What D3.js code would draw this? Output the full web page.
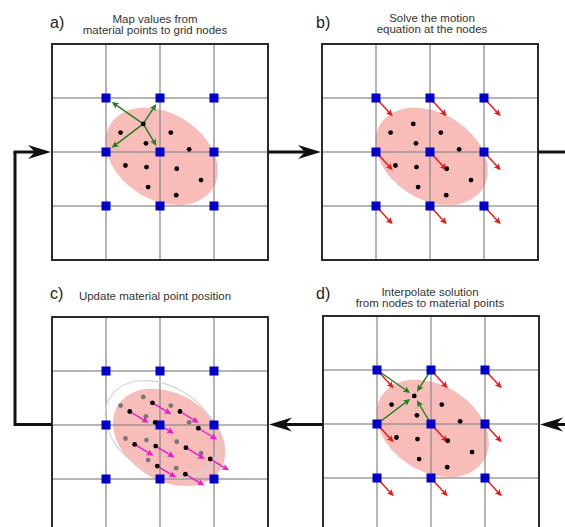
<!DOCTYPE html>
<html><head><meta charset="utf-8">
<script src="https://cdn.jsdelivr.net/npm/d3@7"></script>
<style>body{margin:0;background:#fff}svg{display:block}</style>
</head><body><svg id="chart" width="565" height="527"></svg>
<script>
// ---- data (grid units; one cell = 1) ----
const gridLines = [1, 2, 3];
const nodeIdx = [1, 2, 3];
const materialPoints = [[1.69,1.48],[1.27,1.64],[2.20,1.64],[1.74,1.84],[2.54,1.95],[1.36,2.25],[1.75,2.28],[2.31,2.31],[2.76,2.52],[1.78,2.65],[2.30,2.80]];
const body = {cx: 2.03, cy: 2.08, rx: 1.12, ry: 0.80, angle: 32};
const nodeVelocity = [0.31, 0.34];      // red arrows at nodes (b, d)
const pointShift = [0.17, 0.11];        // material point displacement (c)
const pointVelocity = [0.35, 0.21];     // magenta arrows (c)
const bodyShift = [0.14, 0.15];         // deformed body shift (c)
const mappedPoint = 0;                  // point linked to nodes in a) and d)
const mappedNodes = [[1,1],[2,1],[1,2],[2,2]];
const panelLabels = ["a)", "b)", "c)", "d)"];
const panelTitles = [
  ["Map values from", "material points to grid nodes"],
  ["Solve the motion", "equation at the nodes"],
  ["Update material point position"],
  ["Interpolate solution", "from nodes to material points"]
];

// ---- layout ----
const svg = d3.select("#chart");
const panelPos = [[52,44],[322,44],[52,317],[323,316]];
const s = d3.scaleLinear().domain([0,4]).range([0,216]);
const C = {grid:"#8c8c8c", frame:"#2b2b2b", node:"#0000c8", pink:"#f9bdb9",
           green:"#1f7f1f", red:"#f01414", magenta:"#e41ccc", text:"#333"};

function arrow(g, x1, y1, x2, y2, o) {
  const dx = x2-x1, dy = y2-y1, L = Math.hypot(dx,dy), ux = dx/L, uy = dy/L;
  const hl = o.hl, hw = o.hw, notch = o.notch || 0;
  const bx = x2-ux*hl, by = y2-uy*hl;
  const nx = x2-ux*(hl-notch), ny = y2-uy*(hl-notch);
  g.append("line").attr("x1",x1).attr("y1",y1)
    .attr("x2",nx+ux).attr("y2",ny+uy)
    .attr("stroke",o.color).attr("stroke-width",o.w).attr("stroke-linecap","butt");
  g.append("path")
    .attr("d",`M${x2},${y2}L${bx-uy*hw},${by+ux*hw}L${nx},${ny}L${bx+uy*hw},${by-ux*hw}Z`)
    .attr("fill",o.color);
}

const nodes = [];
nodeIdx.forEach(j => nodeIdx.forEach(i => nodes.push([i,j])));

panelPos.forEach((p, k) => {
  const g = svg.append("g").attr("transform",`translate(${p[0]},${p[1]})`);
  const ox = k === 2 ? bodyShift[0] : 0, oy = k === 2 ? bodyShift[1] : 0;
  g.append("ellipse").attr("cx",s(body.cx+ox)).attr("cy",s(body.cy+oy))
    .attr("rx",s(body.rx)).attr("ry",s(body.ry)).attr("fill",C.pink)
    .attr("transform",`rotate(${body.angle},${s(body.cx+ox)},${s(body.cy+oy)})`);
  // grid
  gridLines.forEach(v => {
    g.append("line").attr("x1",s(v)).attr("x2",s(v)).attr("y1",0).attr("y2",s(4))
      .attr("stroke",C.grid).attr("stroke-width",1.5).attr("opacity",0.85);
    g.append("line").attr("y1",s(v)).attr("y2",s(v)).attr("x1",0).attr("x2",s(4))
      .attr("stroke",C.grid).attr("stroke-width",1.5).attr("opacity",0.85);
  });
  g.append("rect").attr("x",0).attr("y",0).attr("width",s(4)).attr("height",s(4))
    .attr("fill","none").attr("stroke",C.frame).attr("stroke-width",2);

  if (k === 2) {
    g.append("ellipse").attr("cx",s(body.cx)).attr("cy",s(body.cy))
      .attr("rx",s(body.rx)).attr("ry",s(body.ry)).attr("fill","none")
      .attr("stroke","#d4d4d4").attr("stroke-width",1.2)
      .attr("transform",`rotate(${body.angle},${s(body.cx)},${s(body.cy)})`);
  }

  // node arrows (b, d)
  if (k === 1 || k === 3) {
    nodes.forEach(n => arrow(g, s(n[0]), s(n[1]), s(n[0]+nodeVelocity[0]), s(n[1]+nodeVelocity[1]),
      {color:C.red, w:1.4, hl:7, hw:3.2, notch:1.5}));
  }
  // green mapping arrows
  const mp = materialPoints[mappedPoint];
  if (k === 0) {
    mappedNodes.forEach(n => {
      const dx = s(n[0])-s(mp[0]), dy = s(n[1])-s(mp[1]), L = Math.hypot(dx,dy);
      arrow(g, s(mp[0]), s(mp[1]), s(n[0])-dx/L*7, s(n[1])-dy/L*7,
        {color:C.green, w:1.4, hl:7, hw:3.2, notch:1.5});
    });
  }
  if (k === 3) {
    mappedNodes.forEach(n => {
      const dx = s(mp[0])-s(n[0]), dy = s(mp[1])-s(n[1]), L = Math.hypot(dx,dy);
      arrow(g, s(n[0]), s(n[1]), s(mp[0])-dx/L*5, s(mp[1])-dy/L*5,
        {color:C.green, w:1.4, hl:7, hw:3.2, notch:1.5});
    });
  }
  // material points
  if (k === 2) {
    materialPoints.forEach(m => {
      g.append("circle").attr("cx",s(m[0])).attr("cy",s(m[1])).attr("r",2.4).attr("fill","#777");
    });
    materialPoints.forEach(m => {
      const x = m[0]+pointShift[0], y = m[1]+pointShift[1];
      arrow(g, s(x), s(y), s(x+pointVelocity[0]), s(y+pointVelocity[1]),
        {color:C.magenta, w:1.4, hl:7, hw:3.2, notch:1.5});
    });
  }
  // nodes
  g.selectAll("rect.node").data(nodes).enter().append("rect").attr("class","node")
    .attr("x",d=>s(d[0])-4.5).attr("y",d=>s(d[1])-4.5).attr("width",9).attr("height",9)
    .attr("fill",C.node);
  const pts = k === 2 ? materialPoints.map(m => [m[0]+pointShift[0], m[1]+pointShift[1]]) : materialPoints;
  g.selectAll("circle.mp").data(pts).enter().append("circle").attr("class","mp")
    .attr("cx",d=>s(d[0])).attr("cy",d=>s(d[1])).attr("r",2.4).attr("fill","#000");
});

// labels and titles
const labelPos = [[50,27.5],[316,27.5],[50,299],[316,299]];
const titlePos = [[155,22.5],[432,22],[155,300],[430,295.5]];
panelLabels.forEach((t,k) => {
  svg.append("text").attr("x",labelPos[k][0]).attr("y",labelPos[k][1]).text(t)
    .attr("font-family","Liberation Sans, Arial, sans-serif").attr("font-size",16).attr("fill","#222");
});
panelTitles.forEach((lines,k) => {
  lines.forEach((t,i) => {
    svg.append("text").attr("x",titlePos[k][0]).attr("y",titlePos[k][1]+i*11.3).text(t)
      .attr("text-anchor","middle").attr("font-family","Liberation Sans, Arial, sans-serif")
      .attr("font-size",11.5).attr("fill",C.text);
  });
});

// connectors
const big = {color:"#111", w:3, hl:23, hw:7, notch:7};
const conn = svg.append("g");
arrow(conn, 268, 152, 321, 152, big);
conn.append("line").attr("x1",538).attr("y1",152).attr("x2",565).attr("y2",152)
  .attr("stroke","#111").attr("stroke-width",3);
arrow(conn, 575, 424.5, 540, 424.5, big);
arrow(conn, 323, 424.5, 269, 424.5, big);
conn.append("path").attr("d","M52,424.5H15V152").attr("fill","none")
  .attr("stroke","#111").attr("stroke-width",3);
arrow(conn, 13.5, 152, 51, 152, big);
</script></body></html>
